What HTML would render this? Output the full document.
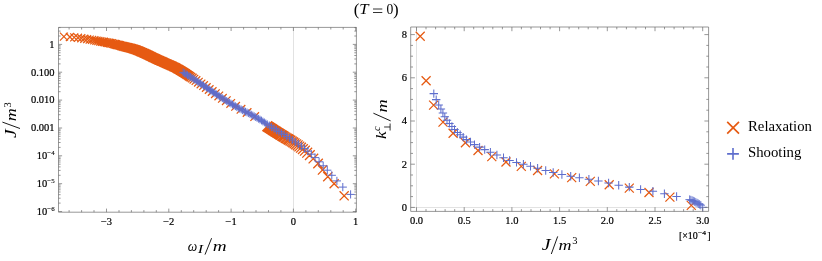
<!DOCTYPE html>
<html><head><meta charset="utf-8"><title>T=0</title>
<style>html,body{margin:0;padding:0;background:#fff;}svg{display:block;will-change:transform;}</style>
</head><body>
<svg width="822" height="261" viewBox="0 0 822 261">
<rect width="822" height="261" fill="#fff"/>
<g stroke="#e2e2e2" stroke-width="1" fill="none">
<path d="M293.5 27.4V212.2"/>
<path d="M416.5 27.0V211.4M410.7 207.5H708.6"/>
</g>
<g fill="none" stroke-width="1.15" stroke-linecap="butt">
<path stroke="#E65A12" stroke-width="1.25" d="M59.9 32.6l8.0 8.0m0 -8.0l-8.0 8.0M65.9 33.0l8.0 8.0m0 -8.0l-8.0 8.0M70.2 33.4l8.0 8.0m0 -8.0l-8.0 8.0M74.0 33.8l8.0 8.0m0 -8.0l-8.0 8.0M77.3 34.2l8.0 8.0m0 -8.0l-8.0 8.0M80.3 34.7l8.0 8.0m0 -8.0l-8.0 8.0M83.1 35.1l8.0 8.0m0 -8.0l-8.0 8.0M85.7 35.6l8.0 8.0m0 -8.0l-8.0 8.0M88.1 35.9l8.0 8.0m0 -8.0l-8.0 8.0M90.3 36.3l8.1 8.1m0 -8.1l-8.1 8.1M92.4 36.6l8.1 8.1m0 -8.1l-8.1 8.1M94.3 37.0l8.1 8.1m0 -8.1l-8.1 8.1M96.2 37.3l8.2 8.2m0 -8.2l-8.2 8.2M98.0 37.6l8.2 8.2m0 -8.2l-8.2 8.2M99.7 37.8l8.2 8.2m0 -8.2l-8.2 8.2M101.3 38.1l8.2 8.2m0 -8.2l-8.2 8.2M102.9 38.4l8.3 8.3m0 -8.3l-8.3 8.3M104.5 38.7l8.3 8.3m0 -8.3l-8.3 8.3M106.0 39.0l8.3 8.3m0 -8.3l-8.3 8.3M107.5 39.3l8.3 8.3m0 -8.3l-8.3 8.3M109.0 39.6l8.3 8.3m0 -8.3l-8.3 8.3M110.4 39.9l8.4 8.4m0 -8.4l-8.4 8.4M111.7 40.3l8.4 8.4m0 -8.4l-8.4 8.4M113.1 40.6l8.4 8.4m0 -8.4l-8.4 8.4M114.4 40.9l8.4 8.4m0 -8.4l-8.4 8.4M115.7 41.2l8.4 8.4m0 -8.4l-8.4 8.4M116.9 41.6l8.5 8.5m0 -8.5l-8.5 8.5M118.1 41.9l8.5 8.5m0 -8.5l-8.5 8.5M119.3 42.2l8.5 8.5m0 -8.5l-8.5 8.5M120.5 42.5l8.5 8.5m0 -8.5l-8.5 8.5M121.6 42.7l8.5 8.5m0 -8.5l-8.5 8.5M122.7 43.0l8.6 8.6m0 -8.6l-8.6 8.6M123.7 43.3l8.6 8.6m0 -8.6l-8.6 8.6M124.7 43.5l8.6 8.6m0 -8.6l-8.6 8.6M125.8 43.8l8.6 8.6m0 -8.6l-8.6 8.6M126.7 44.0l8.6 8.6m0 -8.6l-8.6 8.6M127.7 44.3l8.6 8.6m0 -8.6l-8.6 8.6M128.7 44.6l8.6 8.6m0 -8.6l-8.6 8.6M129.6 44.8l8.6 8.6m0 -8.6l-8.6 8.6M130.5 45.1l8.6 8.6m0 -8.6l-8.6 8.6M131.4 45.4l8.6 8.6m0 -8.6l-8.6 8.6M132.3 45.8l8.6 8.6m0 -8.6l-8.6 8.6M133.2 46.1l8.6 8.6m0 -8.6l-8.6 8.6M134.0 46.4l8.6 8.6m0 -8.6l-8.6 8.6M134.9 46.8l8.6 8.6m0 -8.6l-8.6 8.6M135.8 47.1l8.6 8.6m0 -8.6l-8.6 8.6M136.6 47.5l8.6 8.6m0 -8.6l-8.6 8.6M137.4 47.9l8.6 8.6m0 -8.6l-8.6 8.6M138.3 48.2l8.6 8.6m0 -8.6l-8.6 8.6M139.1 48.6l8.6 8.6m0 -8.6l-8.6 8.6M139.9 48.9l8.6 8.6m0 -8.6l-8.6 8.6M140.7 49.3l8.6 8.6m0 -8.6l-8.6 8.6M141.5 49.7l8.6 8.6m0 -8.6l-8.6 8.6M142.3 50.0l8.6 8.6m0 -8.6l-8.6 8.6M143.1 50.4l8.6 8.6m0 -8.6l-8.6 8.6M143.9 50.8l8.6 8.6m0 -8.6l-8.6 8.6M144.6 51.1l8.6 8.6m0 -8.6l-8.6 8.6M145.4 51.5l8.6 8.6m0 -8.6l-8.6 8.6M146.2 51.9l8.6 8.6m0 -8.6l-8.6 8.6M147.0 52.3l8.6 8.6m0 -8.6l-8.6 8.6M147.8 52.7l8.6 8.6m0 -8.6l-8.6 8.6M148.5 53.1l8.6 8.6m0 -8.6l-8.6 8.6M149.3 53.4l8.6 8.6m0 -8.6l-8.6 8.6M150.1 53.8l8.6 8.6m0 -8.6l-8.6 8.6M150.9 54.2l8.6 8.6m0 -8.6l-8.6 8.6M151.7 54.5l8.6 8.6m0 -8.6l-8.6 8.6M152.4 54.9l8.6 8.6m0 -8.6l-8.6 8.6M153.2 55.3l8.6 8.6m0 -8.6l-8.6 8.6M154.0 55.6l8.6 8.6m0 -8.6l-8.6 8.6M154.8 56.0l8.6 8.6m0 -8.6l-8.6 8.6M155.6 56.3l8.6 8.6m0 -8.6l-8.6 8.6M156.3 56.7l8.6 8.6m0 -8.6l-8.6 8.6M157.1 57.0l8.6 8.6m0 -8.6l-8.6 8.6M157.9 57.3l8.6 8.6m0 -8.6l-8.6 8.6M158.7 57.7l8.6 8.6m0 -8.6l-8.6 8.6M159.5 58.0l8.6 8.6m0 -8.6l-8.6 8.6M160.2 58.4l8.6 8.6m0 -8.6l-8.6 8.6M161.0 58.7l8.6 8.6m0 -8.6l-8.6 8.6M161.8 59.1l8.6 8.6m0 -8.6l-8.6 8.6M162.6 59.4l8.6 8.6m0 -8.6l-8.6 8.6M163.4 59.8l8.6 8.6m0 -8.6l-8.6 8.6M164.1 60.1l8.6 8.6m0 -8.6l-8.6 8.6M164.9 60.4l8.6 8.6m0 -8.6l-8.6 8.6M165.7 60.8l8.6 8.6m0 -8.6l-8.6 8.6M166.5 61.1l8.6 8.6m0 -8.6l-8.6 8.6M167.3 61.5l8.6 8.6m0 -8.6l-8.6 8.6M168.0 61.8l8.6 8.6m0 -8.6l-8.6 8.6M168.8 62.2l8.6 8.6m0 -8.6l-8.6 8.6M169.6 62.6l8.6 8.6m0 -8.6l-8.6 8.6M170.4 62.9l8.6 8.6m0 -8.6l-8.6 8.6M171.2 63.3l8.6 8.6m0 -8.6l-8.6 8.6M171.9 63.7l8.6 8.6m0 -8.6l-8.6 8.6M172.7 64.2l8.6 8.6m0 -8.6l-8.6 8.6M173.5 64.6l8.6 8.6m0 -8.6l-8.6 8.6M174.3 65.0l8.6 8.6m0 -8.6l-8.6 8.6M175.1 65.5l8.6 8.6m0 -8.6l-8.6 8.6M175.8 66.0l8.6 8.6m0 -8.6l-8.6 8.6M176.6 66.4l8.6 8.6m0 -8.6l-8.6 8.6M177.4 66.9l8.6 8.6m0 -8.6l-8.6 8.6M178.2 67.4l8.6 8.6m0 -8.6l-8.6 8.6M179.0 67.9l8.6 8.6m0 -8.6l-8.6 8.6M179.8 68.4l8.6 8.6m0 -8.6l-8.6 8.6M180.7 68.9l8.6 8.6m0 -8.6l-8.6 8.6M181.5 69.5l8.6 8.6m0 -8.6l-8.6 8.6M182.4 70.1l8.6 8.6m0 -8.6l-8.6 8.6M183.4 70.7l8.6 8.6m0 -8.6l-8.6 8.6M184.4 71.4l8.6 8.6m0 -8.6l-8.6 8.6M185.4 72.1l8.6 8.6m0 -8.6l-8.6 8.6M186.6 72.9l8.6 8.6m0 -8.6l-8.6 8.6M188.0 73.8l8.6 8.6m0 -8.6l-8.6 8.6M189.6 74.9l8.6 8.6m0 -8.6l-8.6 8.6M191.7 76.3l8.6 8.6m0 -8.6l-8.6 8.6M194.1 77.9l8.6 8.6m0 -8.6l-8.6 8.6M196.7 79.6l8.6 8.6m0 -8.6l-8.6 8.6M199.3 81.3l8.6 8.6m0 -8.6l-8.6 8.6M202.0 83.2l8.6 8.6m0 -8.6l-8.6 8.6M204.9 85.2l8.6 8.6m0 -8.6l-8.6 8.6M207.9 87.2l8.6 8.6m0 -8.6l-8.6 8.6M211.1 89.4l8.6 8.6m0 -8.6l-8.6 8.6M214.5 91.6l8.6 8.6m0 -8.6l-8.6 8.6M218.1 94.0l8.6 8.6m0 -8.6l-8.6 8.6M222.0 96.4l8.6 8.6m0 -8.6l-8.6 8.6M226.4 99.1l8.6 8.6m0 -8.6l-8.6 8.6M231.3 102.0l8.6 8.6m0 -8.6l-8.6 8.6M236.7 105.0l8.6 8.6m0 -8.6l-8.6 8.6M242.8 108.2l8.6 8.6m0 -8.6l-8.6 8.6M250.4 112.3l8.6 8.6m0 -8.6l-8.6 8.6"/>
<path stroke="#E65A12" stroke-width="1.3" d="M262.3 121.3l9.8 9.8m0 -9.8l-9.8 9.8M263.2 121.9l9.8 9.8m0 -9.8l-9.8 9.8M264.2 122.5l9.8 9.8m0 -9.8l-9.8 9.8M265.1 123.1l9.8 9.8m0 -9.8l-9.8 9.8M266.1 123.7l9.8 9.8m0 -9.8l-9.8 9.8M267.0 124.3l9.8 9.8m0 -9.8l-9.8 9.8M268.0 125.0l9.8 9.8m0 -9.8l-9.8 9.8M268.9 125.6l9.8 9.8m0 -9.8l-9.8 9.8M269.9 126.2l9.8 9.8m0 -9.8l-9.8 9.8M270.9 126.8l9.8 9.8m0 -9.8l-9.8 9.8M271.9 127.5l9.8 9.8m0 -9.8l-9.8 9.8M273.0 128.1l9.8 9.8m0 -9.8l-9.8 9.8M274.0 128.7l9.8 9.8m0 -9.8l-9.8 9.8M275.1 129.4l9.8 9.8m0 -9.8l-9.8 9.8M276.2 130.1l9.8 9.8m0 -9.8l-9.8 9.8M277.3 130.8l9.8 9.8m0 -9.8l-9.8 9.8M278.4 131.4l9.8 9.8m0 -9.8l-9.8 9.8M279.5 132.1l9.8 9.8m0 -9.8l-9.8 9.8M280.7 132.9l9.8 9.8m0 -9.8l-9.8 9.8M281.9 133.6l9.8 9.8m0 -9.8l-9.8 9.8M283.1 134.3l9.8 9.8m0 -9.8l-9.8 9.8M284.3 135.0l9.8 9.8m0 -9.8l-9.8 9.8M285.6 135.8l9.8 9.8m0 -9.8l-9.8 9.8M287.0 136.6l9.8 9.8m0 -9.8l-9.8 9.8M288.3 137.5l9.8 9.8m0 -9.8l-9.8 9.8M289.7 138.4l9.8 9.8m0 -9.8l-9.8 9.8M291.2 139.4l9.8 9.8m0 -9.8l-9.8 9.8M292.8 140.4l9.8 9.8m0 -9.8l-9.8 9.8M294.4 141.6l9.8 9.8m0 -9.8l-9.8 9.8M296.1 142.8l9.8 9.8m0 -9.8l-9.8 9.8M298.0 144.2l9.8 9.8m0 -9.8l-9.8 9.8M300.0 145.8l9.8 9.8m0 -9.8l-9.8 9.8M302.3 147.8l9.8 9.8m0 -9.8l-9.8 9.8M305.0 150.3l9.7 9.7m0 -9.7l-9.7 9.7M308.6 153.8l9.6 9.6m0 -9.6l-9.6 9.6M313.3 158.8l9.5 9.5m0 -9.5l-9.5 9.5M317.9 165.3l9.3 9.3m0 -9.3l-9.3 9.3M323.2 172.1l9.2 9.2m0 -9.2l-9.2 9.2M329.6 179.2l9.1 9.1m0 -9.1l-9.1 9.1M339.6 191.3l9.1 9.1m0 -9.1l-9.1 9.1"/>
<path stroke="#5E6ECD" stroke-width="0.95" d="M179.3 72.4h7.8m-3.9 -3.9v7.8M180.7 73.3h7.8m-3.9 -3.9v7.8M182.2 74.2h7.8m-3.9 -3.9v7.8M183.6 75.1h7.8m-3.9 -3.9v7.8M185.1 76.0h7.8m-3.9 -3.9v7.8M186.5 76.9h7.8m-3.9 -3.9v7.8M188.0 77.8h7.8m-3.9 -3.9v7.8M189.4 78.8h7.8m-3.9 -3.9v7.8M190.9 79.7h7.8m-3.9 -3.9v7.8M192.3 80.7h7.8m-3.9 -3.9v7.8M193.8 81.7h7.8m-3.9 -3.9v7.8M195.2 82.6h7.8m-3.9 -3.9v7.8M196.7 83.6h7.8m-3.9 -3.9v7.8M198.1 84.6h7.8m-3.9 -3.9v7.8M199.6 85.6h7.8m-3.9 -3.9v7.8M201.0 86.6h7.8m-3.9 -3.9v7.8M202.5 87.6h7.8m-3.9 -3.9v7.8M203.9 88.5h7.8m-3.9 -3.9v7.8M205.4 89.5h7.8m-3.9 -3.9v7.8M206.8 90.5h7.8m-3.9 -3.9v7.8M208.3 91.5h7.8m-3.9 -3.9v7.8M209.7 92.5h7.8m-3.9 -3.9v7.8M211.2 93.4h7.8m-3.9 -3.9v7.8M212.6 94.4h7.8m-3.9 -3.9v7.8M214.1 95.4h7.8m-3.9 -3.9v7.8M215.5 96.3h7.8m-3.9 -3.9v7.8M217.0 97.3h7.8m-3.9 -3.9v7.8M218.4 98.2h7.8m-3.9 -3.9v7.8M219.9 99.1h7.8m-3.9 -3.9v7.8M221.3 100.1h7.8m-3.9 -3.9v7.8M222.8 101.0h7.8m-3.9 -3.9v7.8M224.2 101.9h7.8m-3.9 -3.9v7.8M225.7 102.8h7.8m-3.9 -3.9v7.8M227.1 103.6h7.8m-3.9 -3.9v7.8M228.6 104.5h7.8m-3.9 -3.9v7.8M230.0 105.4h7.8m-3.9 -3.9v7.8M231.5 106.2h7.8m-3.9 -3.9v7.8M232.9 107.0h7.8m-3.9 -3.9v7.8M234.4 107.9h7.8m-3.9 -3.9v7.8M235.8 108.7h7.8m-3.9 -3.9v7.8M237.3 109.4h7.8m-3.9 -3.9v7.8M238.7 110.2h7.8m-3.9 -3.9v7.8M240.2 111.0h7.8m-3.9 -3.9v7.8M241.6 111.7h7.8m-3.9 -3.9v7.8M243.1 112.4h7.8m-3.9 -3.9v7.8M244.5 113.2h7.8m-3.9 -3.9v7.8M246.0 113.9h7.8m-3.9 -3.9v7.8M247.4 114.7h7.8m-3.9 -3.9v7.8M248.9 115.5h7.8m-3.9 -3.9v7.8M250.3 116.3h7.8m-3.9 -3.9v7.8M251.8 117.1h7.8m-3.9 -3.9v7.8M253.2 117.9h7.8m-3.9 -3.9v7.8M254.7 118.8h7.8m-3.9 -3.9v7.8M256.1 119.6h7.8m-3.9 -3.9v7.8M257.6 120.5h7.8m-3.9 -3.9v7.8M259.0 121.5h7.8m-3.9 -3.9v7.8M260.5 122.4h7.8m-3.9 -3.9v7.8M261.9 123.4h7.8m-3.9 -3.9v7.8M263.4 124.3h7.8m-3.9 -3.9v7.8"/>
<path stroke="#5E6ECD" stroke-width="1.0" d="M265.2 125.6h8.2m-4.1 -4.1v8.2M267.5 127.1h8.2m-4.1 -4.1v8.2M269.9 128.6h8.2m-4.1 -4.1v8.2M272.3 130.1h8.2m-4.1 -4.1v8.2M274.8 131.6h8.2m-4.1 -4.1v8.2M277.4 133.1h8.2m-4.1 -4.1v8.2M280.0 134.6h8.2m-4.1 -4.1v8.2M282.7 136.4h8.2m-4.1 -4.1v8.2M285.5 138.2h8.2m-4.1 -4.1v8.2M288.3 140.1h8.2m-4.1 -4.1v8.2M291.2 142.1h8.2m-4.1 -4.1v8.2M294.2 144.1h8.2m-4.1 -4.1v8.2M297.3 146.2h8.2m-4.1 -4.1v8.2M300.4 148.6h8.2m-4.1 -4.1v8.2M303.7 151.2h8.2m-4.1 -4.1v8.2M307.2 154.2h8.2m-4.1 -4.1v8.2M310.9 157.6h8.2m-4.1 -4.1v8.2M315.0 161.8h8.2m-4.1 -4.1v8.2M319.1 165.8h8.2m-4.1 -4.1v8.2M323.2 170.2h8.2m-4.1 -4.1v8.2M327.7 175.3h8.2m-4.1 -4.1v8.2M332.8 180.9h8.2m-4.1 -4.1v8.2M338.7 187.1h8.2m-4.1 -4.1v8.2M346.5 194.4h8.2m-4.1 -4.1v8.2"/>
<path stroke="#E65A12" stroke-width="1.25" d="M415.7 31.7l9.0 9.0m0 -9.0l-9.0 9.0M421.6 76.3l9.0 9.0m0 -9.0l-9.0 9.0M429.1 100.6l9.0 9.0m0 -9.0l-9.0 9.0M438.5 117.6l9.0 9.0m0 -9.0l-9.0 9.0M448.6 128.8l9.0 9.0m0 -9.0l-9.0 9.0M460.9 138.3l9.0 9.0m0 -9.0l-9.0 9.0M473.5 146.0l9.0 9.0m0 -9.0l-9.0 9.0M487.3 152.1l9.0 9.0m0 -9.0l-9.0 9.0M501.5 157.5l9.0 9.0m0 -9.0l-9.0 9.0M516.8 161.9l9.0 9.0m0 -9.0l-9.0 9.0M533.1 166.0l9.0 9.0m0 -9.0l-9.0 9.0M549.9 169.4l9.0 9.0m0 -9.0l-9.0 9.0M567.2 173.1l9.0 9.0m0 -9.0l-9.0 9.0M585.8 176.9l9.0 9.0m0 -9.0l-9.0 9.0M604.7 180.3l9.0 9.0m0 -9.0l-9.0 9.0M624.8 183.6l9.0 9.0m0 -9.0l-9.0 9.0M644.5 188.0l9.0 9.0m0 -9.0l-9.0 9.0M665.4 192.6l9.0 9.0m0 -9.0l-9.0 9.0M686.8 200.9l9.0 9.0m0 -9.0l-9.0 9.0"/>
<path stroke="#5E6ECD" stroke-width="1.05" d="M429.6 93.6h8.4m-4.2 -4.2v8.4M432.0 99.6h8.4m-4.2 -4.2v8.4M434.5 104.9h8.4m-4.2 -4.2v8.4M436.7 109.0h8.4m-4.2 -4.2v8.4M438.7 113.0h8.4m-4.2 -4.2v8.4M440.6 116.7h8.4m-4.2 -4.2v8.4M442.8 120.2h8.4m-4.2 -4.2v8.4M445.2 123.4h8.4m-4.2 -4.2v8.4M447.7 126.5h8.4m-4.2 -4.2v8.4M450.3 129.5h8.4m-4.2 -4.2v8.4M453.3 132.5h8.4m-4.2 -4.2v8.4M456.0 134.8h8.4m-4.2 -4.2v8.4M459.0 137.1h8.4m-4.2 -4.2v8.4M462.2 139.6h8.4m-4.2 -4.2v8.4M466.3 142.0h8.4m-4.2 -4.2v8.4M470.3 144.6h8.4m-4.2 -4.2v8.4M475.4 147.1h8.4m-4.2 -4.2v8.4M480.5 149.6h8.4m-4.2 -4.2v8.4M486.2 152.2h8.4m-4.2 -4.2v8.4M492.7 155.0h8.4m-4.2 -4.2v8.4M499.3 157.8h8.4m-4.2 -4.2v8.4M505.4 160.4h8.4m-4.2 -4.2v8.4M512.3 162.4h8.4m-4.2 -4.2v8.4M519.2 164.2h8.4m-4.2 -4.2v8.4M526.3 166.3h8.4m-4.2 -4.2v8.4M533.4 168.3h8.4m-4.2 -4.2v8.4M541.5 170.5h8.4m-4.2 -4.2v8.4M549.0 172.5h8.4m-4.2 -4.2v8.4M557.7 174.5h8.4m-4.2 -4.2v8.4M566.5 176.2h8.4m-4.2 -4.2v8.4M575.2 177.8h8.4m-4.2 -4.2v8.4M584.7 179.3h8.4m-4.2 -4.2v8.4M594.2 181.0h8.4m-4.2 -4.2v8.4M604.4 183.0h8.4m-4.2 -4.2v8.4M614.5 185.3h8.4m-4.2 -4.2v8.4M625.1 187.1h8.4m-4.2 -4.2v8.4M636.4 189.4h8.4m-4.2 -4.2v8.4M648.7 191.2h8.4m-4.2 -4.2v8.4M660.2 193.8h8.4m-4.2 -4.2v8.4M672.4 196.5h8.4m-4.2 -4.2v8.4"/>
<path stroke="#5E6ECD" stroke-width="0.9" d="M685.4 199.6h8.4m-4.2 -4.2v8.4M686.6 200.0h8.4m-4.2 -4.2v8.4M687.9 200.5h8.4m-4.2 -4.2v8.4M689.1 201.0h8.4m-4.2 -4.2v8.4M690.4 201.6h8.4m-4.2 -4.2v8.4M691.6 202.3h8.4m-4.2 -4.2v8.4M692.9 203.0h8.4m-4.2 -4.2v8.4M694.1 203.7h8.4m-4.2 -4.2v8.4M695.4 204.4h8.4m-4.2 -4.2v8.4M696.6 205.2h8.4m-4.2 -4.2v8.4M698.5 207.3h8.4m-4.2 -4.2v8.4"/>
<path stroke="#E65A12" stroke-width="1.65" d="M727.2 121.8l11.8 11.8m0 -11.8l-11.8 11.8"/>
<path stroke="#5E6ECD" stroke-width="1.6" d="M727.1 153.9h11.8m-5.9 -5.9v11.8"/>
</g>
<path fill="none" stroke="#6c6c6c" stroke-width="0.7" d="M58.5 27.4H356.4V212.2H58.5ZM69.1 212.2v-2.1M69.1 27.4v2.1M81.6 212.2v-2.1M81.6 27.4v2.1M94.0 212.2v-2.1M94.0 27.4v2.1M106.5 212.2v-3.6M106.5 27.4v3.6M119.0 212.2v-2.1M119.0 27.4v2.1M131.4 212.2v-2.1M131.4 27.4v2.1M143.9 212.2v-2.1M143.9 27.4v2.1M156.3 212.2v-2.1M156.3 27.4v2.1M168.8 212.2v-3.6M168.8 27.4v3.6M181.3 212.2v-2.1M181.3 27.4v2.1M193.7 212.2v-2.1M193.7 27.4v2.1M206.2 212.2v-2.1M206.2 27.4v2.1M218.6 212.2v-2.1M218.6 27.4v2.1M231.1 212.2v-3.6M231.1 27.4v3.6M243.6 212.2v-2.1M243.6 27.4v2.1M256.0 212.2v-2.1M256.0 27.4v2.1M268.5 212.2v-2.1M268.5 27.4v2.1M280.9 212.2v-2.1M280.9 27.4v2.1M293.4 212.2v-3.6M293.4 27.4v3.6M305.9 212.2v-2.1M305.9 27.4v2.1M318.3 212.2v-2.1M318.3 27.4v2.1M330.8 212.2v-2.1M330.8 27.4v2.1M343.2 212.2v-2.1M343.2 27.4v2.1M355.7 212.2v-3.6M355.7 27.4v3.6M58.5 211.5h3.6M356.4 211.5h-3.6M58.5 203.1h2.1M356.4 203.1h-2.1M58.5 198.2h2.1M356.4 198.2h-2.1M58.5 194.7h2.1M356.4 194.7h-2.1M58.5 192.0h2.1M356.4 192.0h-2.1M58.5 189.8h2.1M356.4 189.8h-2.1M58.5 188.0h2.1M356.4 188.0h-2.1M58.5 186.3h2.1M356.4 186.3h-2.1M58.5 184.9h2.1M356.4 184.9h-2.1M58.5 183.7h3.6M356.4 183.7h-3.6M58.5 175.3h2.1M356.4 175.3h-2.1M58.5 170.4h2.1M356.4 170.4h-2.1M58.5 166.9h2.1M356.4 166.9h-2.1M58.5 164.2h2.1M356.4 164.2h-2.1M58.5 162.0h2.1M356.4 162.0h-2.1M58.5 160.1h2.1M356.4 160.1h-2.1M58.5 158.5h2.1M356.4 158.5h-2.1M58.5 157.1h2.1M356.4 157.1h-2.1M58.5 155.8h3.6M356.4 155.8h-3.6M58.5 147.4h2.1M356.4 147.4h-2.1M58.5 142.5h2.1M356.4 142.5h-2.1M58.5 139.0h2.1M356.4 139.0h-2.1M58.5 136.3h2.1M356.4 136.3h-2.1M58.5 134.1h2.1M356.4 134.1h-2.1M58.5 132.3h2.1M356.4 132.3h-2.1M58.5 130.6h2.1M356.4 130.6h-2.1M58.5 129.2h2.1M356.4 129.2h-2.1M58.5 128.0h3.6M356.4 128.0h-3.6M58.5 119.6h2.1M356.4 119.6h-2.1M58.5 114.7h2.1M356.4 114.7h-2.1M58.5 111.2h2.1M356.4 111.2h-2.1M58.5 108.5h2.1M356.4 108.5h-2.1M58.5 106.3h2.1M356.4 106.3h-2.1M58.5 104.4h2.1M356.4 104.4h-2.1M58.5 102.8h2.1M356.4 102.8h-2.1M58.5 101.4h2.1M356.4 101.4h-2.1M58.5 100.1h3.6M356.4 100.1h-3.6M58.5 91.7h2.1M356.4 91.7h-2.1M58.5 86.8h2.1M356.4 86.8h-2.1M58.5 83.3h2.1M356.4 83.3h-2.1M58.5 80.6h2.1M356.4 80.6h-2.1M58.5 78.4h2.1M356.4 78.4h-2.1M58.5 76.6h2.1M356.4 76.6h-2.1M58.5 74.9h2.1M356.4 74.9h-2.1M58.5 73.5h2.1M356.4 73.5h-2.1M58.5 72.2h3.6M356.4 72.2h-3.6M58.5 63.9h2.1M356.4 63.9h-2.1M58.5 59.0h2.1M356.4 59.0h-2.1M58.5 55.5h2.1M356.4 55.5h-2.1M58.5 52.8h2.1M356.4 52.8h-2.1M58.5 50.6h2.1M356.4 50.6h-2.1M58.5 48.7h2.1M356.4 48.7h-2.1M58.5 47.1h2.1M356.4 47.1h-2.1M58.5 45.7h2.1M356.4 45.7h-2.1M58.5 44.4h3.6M356.4 44.4h-3.6M58.5 36.0h2.1M356.4 36.0h-2.1M58.5 31.1h2.1M356.4 31.1h-2.1M58.5 27.6h2.1M356.4 27.6h-2.1"/>
<path fill="none" stroke="#6c6c6c" stroke-width="0.7" d="M410.7 27.0H708.6V211.4H410.7ZM416.5 211.4v-4.2M416.5 27.0v4.2M426.0 211.4v-2.3M426.0 27.0v2.3M435.6 211.4v-2.3M435.6 27.0v2.3M445.1 211.4v-2.3M445.1 27.0v2.3M454.7 211.4v-2.3M454.7 27.0v2.3M464.2 211.4v-4.2M464.2 27.0v4.2M473.7 211.4v-2.3M473.7 27.0v2.3M483.3 211.4v-2.3M483.3 27.0v2.3M492.8 211.4v-2.3M492.8 27.0v2.3M502.4 211.4v-2.3M502.4 27.0v2.3M511.9 211.4v-4.2M511.9 27.0v4.2M521.4 211.4v-2.3M521.4 27.0v2.3M531.0 211.4v-2.3M531.0 27.0v2.3M540.5 211.4v-2.3M540.5 27.0v2.3M550.1 211.4v-2.3M550.1 27.0v2.3M559.6 211.4v-4.2M559.6 27.0v4.2M569.1 211.4v-2.3M569.1 27.0v2.3M578.7 211.4v-2.3M578.7 27.0v2.3M588.2 211.4v-2.3M588.2 27.0v2.3M597.8 211.4v-2.3M597.8 27.0v2.3M607.3 211.4v-4.2M607.3 27.0v4.2M616.8 211.4v-2.3M616.8 27.0v2.3M626.4 211.4v-2.3M626.4 27.0v2.3M635.9 211.4v-2.3M635.9 27.0v2.3M645.5 211.4v-2.3M645.5 27.0v2.3M655.0 211.4v-4.2M655.0 27.0v4.2M664.5 211.4v-2.3M664.5 27.0v2.3M674.1 211.4v-2.3M674.1 27.0v2.3M683.6 211.4v-2.3M683.6 27.0v2.3M693.2 211.4v-2.3M693.2 27.0v2.3M702.7 211.4v-4.2M702.7 27.0v4.2M410.7 207.4h4.2M708.6 207.4h-4.2M410.7 196.6h2.3M708.6 196.6h-2.3M410.7 185.8h2.3M708.6 185.8h-2.3M410.7 175.0h2.3M708.6 175.0h-2.3M410.7 164.2h4.2M708.6 164.2h-4.2M410.7 153.4h2.3M708.6 153.4h-2.3M410.7 142.6h2.3M708.6 142.6h-2.3M410.7 131.8h2.3M708.6 131.8h-2.3M410.7 121.0h4.2M708.6 121.0h-4.2M410.7 110.2h2.3M708.6 110.2h-2.3M410.7 99.4h2.3M708.6 99.4h-2.3M410.7 88.6h2.3M708.6 88.6h-2.3M410.7 77.8h4.2M708.6 77.8h-4.2M410.7 67.0h2.3M708.6 67.0h-2.3M410.7 56.2h2.3M708.6 56.2h-2.3M410.7 45.4h2.3M708.6 45.4h-2.3M410.7 34.6h4.2M708.6 34.6h-4.2"/>
<g font-family="'Liberation Serif', serif" fill="#000">
<g stroke="#000" stroke-width="0.2">
<text x="106.5" y="224.6" font-size="10.5" text-anchor="middle">−3</text>
<text x="168.8" y="224.6" font-size="10.5" text-anchor="middle">−2</text>
<text x="231.1" y="224.6" font-size="10.5" text-anchor="middle">−1</text>
<text x="293.4" y="224.6" font-size="10.5" text-anchor="middle">0</text>
<text x="355.7" y="224.6" font-size="10.5" text-anchor="middle">1</text>
<text x="54.6" y="47.6" font-size="10.5" text-anchor="end">1</text>
<text x="54.6" y="75.5" font-size="10.5" text-anchor="end">0.100</text>
<text x="54.6" y="103.3" font-size="10.5" text-anchor="end">0.010</text>
<text x="54.6" y="131.2" font-size="10.5" text-anchor="end">0.001</text>
<text x="54.6" y="159.0" font-size="10.5" text-anchor="end">10<tspan dy="-3.6" font-size="6.9" stroke-width="0.1">−4</tspan></text>
<text x="54.6" y="186.8" font-size="10.5" text-anchor="end">10<tspan dy="-3.6" font-size="6.9" stroke-width="0.1">−5</tspan></text>
<text x="54.6" y="214.7" font-size="10.5" text-anchor="end">10<tspan dy="-3.6" font-size="6.9" stroke-width="0.1">−6</tspan></text>
<text x="416.5" y="224.1" font-size="10.5" text-anchor="middle">0.0</text>
<text x="464.2" y="224.1" font-size="10.5" text-anchor="middle">0.5</text>
<text x="511.9" y="224.1" font-size="10.5" text-anchor="middle">1.0</text>
<text x="559.6" y="224.1" font-size="10.5" text-anchor="middle">1.5</text>
<text x="607.3" y="224.1" font-size="10.5" text-anchor="middle">2.0</text>
<text x="655.0" y="224.1" font-size="10.5" text-anchor="middle">2.5</text>
<text x="702.7" y="224.1" font-size="10.5" text-anchor="middle">3.0</text>
<text x="407" y="210.8" font-size="10.5" text-anchor="end">0</text>
<text x="407" y="167.6" font-size="10.5" text-anchor="end">2</text>
<text x="407" y="124.4" font-size="10.5" text-anchor="end">4</text>
<text x="407" y="81.2" font-size="10.5" text-anchor="end">6</text>
<text x="407" y="38.0" font-size="10.5" text-anchor="end">8</text>
<text x="678.9" y="238.8" font-size="10">[×10</text>
<text x="697.9" y="234.9" font-size="6.3" textLength="8" lengthAdjust="spacingAndGlyphs">−4</text>
<text x="707.3" y="238.8" font-size="10">]</text>
</g>
<text x="748.0" y="131.1" font-size="14.75">Relaxation</text>
<text x="748.0" y="156.7" font-size="14.75">Shooting</text>
<text x="353.7" y="14.8" font-size="16.9">(</text>
<text x="359.2" y="14.4" font-size="14" font-style="italic" textLength="9.3" lengthAdjust="spacingAndGlyphs">T</text>
<path d="M373 9.0h9.3M373 12.5h9.3" stroke="#000" stroke-width="0.8" fill="none"/>
<text x="386.4" y="14.4" font-size="14" textLength="6.8" lengthAdjust="spacingAndGlyphs">0</text>
<text x="393.0" y="14.8" font-size="16.9">)</text>
<g font-style="italic" font-size="15.5">
<text x="187.7" y="250.8" textLength="9.5" lengthAdjust="spacingAndGlyphs">ω</text>
<text x="197.7" y="253.4" font-size="11.5" textLength="5.4" lengthAdjust="spacingAndGlyphs">I</text>
<path d="M205.0 254.6L211.6 238.2" stroke="#000" stroke-width="0.9"/>
<text x="212.8" y="250.8" textLength="13.9" lengthAdjust="spacingAndGlyphs">m</text>
<text x="541.7" y="250.2" font-size="17" textLength="8.8" lengthAdjust="spacingAndGlyphs">J</text>
<path d="M551.3 254.0L557.7 236.4" stroke="#000" stroke-width="0.9"/>
<text x="558.6" y="250" textLength="13" lengthAdjust="spacingAndGlyphs">m</text>
<text x="572.3" y="244.4" font-style="normal" font-size="10.5">3</text>
<g transform="translate(16.2 138.1) rotate(-90)">
<text x="0" y="0.2" font-size="17" textLength="8.8" lengthAdjust="spacingAndGlyphs">J</text>
<path d="M9.6 3.8L16.0 -13.8" stroke="#000" stroke-width="0.9"/>
<text x="16.9" y="0" textLength="13" lengthAdjust="spacingAndGlyphs">m</text>
<text x="30.6" y="-5.6" font-style="normal" font-size="10.5">3</text>
</g>
<g transform="translate(386.6 138.9) rotate(-90)">
<text x="0" y="-0.7" textLength="7.6" lengthAdjust="spacingAndGlyphs">k</text>
<text x="8.0" y="-6.6" font-size="10.5">c</text>
<path d="M8.4 3.5h7m-3.5 0v-6" stroke="#000" stroke-width="0.8" fill="none"/>
<path d="M18.0 4.1L25.7 -13.2" stroke="#000" stroke-width="0.9"/>
<text x="26.4" y="0.6" textLength="13.2" lengthAdjust="spacingAndGlyphs">m</text>
</g>
</g>
</g>
</svg>
</body></html>
